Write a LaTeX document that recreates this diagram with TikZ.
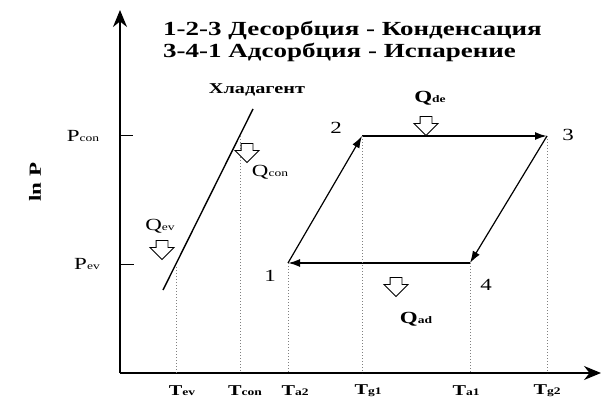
\documentclass[tikz,border=0pt]{standalone}
\usepackage{fontspec}
\setmainfont{Liberation Serif}[FakeStretch=1.35,
  BoldFont={Liberation Serif Bold}, BoldFeatures={FakeStretch=1.35}]
\newfontfamily\headfont{Liberation Serif Bold}[FakeStretch=1.35]
\usetikzlibrary{arrows.meta,shapes.arrows}
\newcommand{\idx}[2]{#1{\fontsize{10}{10}\selectfont #2}}

\begin{document}
\begin{tikzpicture}[x=1pt, y=-1pt,
    axis/.style={line width=1.6pt, -{Stealth[length=17pt,width=14pt]}},
    cyc/.style={line width=1.8pt, -{Latex[length=12pt,width=8pt]}},
    slant/.style={cyc, line width=1.2pt},
    refr/.style={line width=1.4pt},
    guide/.style={gray, dotted, line width=1pt},
    tick/.style={line width=1pt},
    heat/.style={single arrow, draw, line width=0.9pt, fill=white,
                 shape border rotate=270, minimum height=19pt,
                 inner sep=5.5pt, single arrow head extend=6pt},
    lbl/.style={font=\fontsize{17}{17}\selectfont, inner sep=0pt},
    tlbl/.style={font=\bfseries\fontsize{15}{15}\selectfont, inner sep=0pt},
    ttl/.style={font=\headfont\fontsize{20}{20}\selectfont, anchor=west, inner sep=0pt}
]
\useasboundingbox (0,0) rectangle (601,406);

% axes
\coordinate (O)    at (120,373);
\coordinate (ytop) at (120,10);
\coordinate (xend) at (601,373);
\draw[axis] (O) -- (ytop);
\draw[axis] (O) -- (xend);
\node[font=\bfseries\fontsize{17}{17}\selectfont, rotate=90] (lnp) at (35,182) {ln P};

% pressure levels
\coordinate (pcon) at (120,136);
\coordinate (pev)  at (120,264);
\draw[tick] (pcon) -- ++(13,0);
\draw[tick] (pev) -- ++(14,0);
\node[lbl] (pconl) at (83,136) {\idx{P}{con}};
\node[lbl] (pevl)  at (87,264) {\idx{P}{ev}};

% refrigerant line
\coordinate (rlo) at (163,290);
\coordinate (rhi) at (253,109);
\coordinate (ev)  at (176,264);
\coordinate (con) at (240,136);
\draw[refr] (rlo) -- (rhi);
\node[font=\headfont\fontsize{15}{15}\selectfont] (refl) at (257,90) {Хладагент};

% cycle
\coordinate (p1) at (288,263);
\coordinate (p2) at (362,136);
\coordinate (p3) at (547,136);
\coordinate (p4) at (470,263);
\draw[slant] (p1) -- (p2);
\draw[cyc]   (p2) -- (p3);
\draw[slant] (p3) -- (p4);
\draw[cyc]   (p4) -- (p1);
\node[lbl] (n1) at (270,276) {1};
\node[lbl] (n2) at (336,128) {2};
\node[lbl] (n3) at (568,135) {3};
\node[lbl] (n4) at (486,285) {4};

% guides to the T axis
\foreach \p in {ev,con,p1,p2,p4,p3}
  \draw[guide] (\p) -- (\p |- O);

% temperatures
\node[tlbl] (tev)  at (182,391) {\idx{T}{ev}};
\node[tlbl] (tcon) at (245,391) {\idx{T}{con}};
\node[tlbl] (ta2)  at (295,391) {\idx{T}{a2}};
\node[tlbl] (tg1)  at (368,391) {\idx{T}{g1}};
\node[tlbl] (ta1)  at (466,391) {\idx{T}{a1}};
\node[tlbl] (tg2)  at (547,391) {\idx{T}{g2}};

% heat flows
\node[heat] (qeva) at (162,247) {};
\node[lbl]  (qev)  at (160,226) {\idx{Q}{ev}};
\node[heat] (qcona) at (247,150) {};
\node[lbl]  (qcon)  at (270,172) {\idx{Q}{con}};
\node[heat] (qdea) at (426,123) {};
\node[lbl, font=\bfseries\fontsize{17}{17}\selectfont] (qde) at (430,98) {\idx{Q}{de}};
\node[heat] (qada) at (396,284) {};
\node[lbl, font=\bfseries\fontsize{17}{17}\selectfont] (qad) at (416,319) {\idx{Q}{ad}};

% title
\node[ttl] (t1) at (163,30) {1-2-3 Десорбция - Конденсация};
\node[ttl] (t2) at (163,52) {3-4-1 Адсорбция - Испарение};
\end{tikzpicture}
\end{document}
